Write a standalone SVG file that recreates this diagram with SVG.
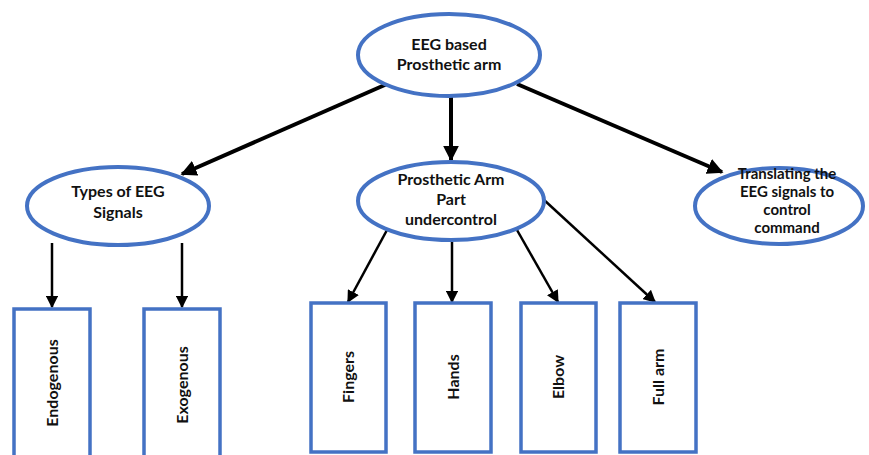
<svg xmlns="http://www.w3.org/2000/svg" width="869" height="455" viewBox="0 0 869 455">
<defs>
<style>
.node{fill:#fff;stroke:#4472C4;stroke-width:4}
.box{fill:#fff;stroke:#4472C4;stroke-width:3.5}
.t{font-family:Lato,"Open Sans","Liberation Sans",sans-serif;font-weight:bold;font-size:16px;fill:#111;text-anchor:middle}
.ts{font-size:15px}
.c{stroke:#000;fill:none}
.thick{stroke-width:4}
.thin{stroke-width:2.5}
</style>
<marker id="ah" viewBox="0 0 10 10" refX="9" refY="5" markerWidth="4" markerHeight="4" orient="auto" markerUnits="strokeWidth"><path d="M0,0 L10,5 L0,10 z" fill="#000"/></marker>
<marker id="ah2" viewBox="0 0 10 10" refX="9" refY="5" markerWidth="5" markerHeight="5" orient="auto" markerUnits="strokeWidth"><path d="M0,0 L10,5 L0,10 z" fill="#000"/></marker>
</defs>
<rect width="869" height="455" fill="#fff"/>
<g id="connectors">
<line class="c thick" x1="387" y1="84" x2="182" y2="174" marker-end="url(#ah)"/>
<line class="c thick" x1="451" y1="96" x2="451" y2="160" marker-end="url(#ah)"/>
<line class="c thick" x1="517" y1="84" x2="722" y2="172" marker-end="url(#ah)"/>
<line class="c thin" x1="52" y1="243" x2="52" y2="307" marker-end="url(#ah2)"/>
<line class="c thin" x1="182" y1="243" x2="182" y2="307" marker-end="url(#ah2)"/>
<line class="c thin" x1="387" y1="230" x2="348" y2="302" marker-end="url(#ah2)"/>
<line class="c thin" x1="452" y1="242" x2="452" y2="302" marker-end="url(#ah2)"/>
<line class="c thin" x1="517" y1="230" x2="558" y2="302" marker-end="url(#ah2)"/>
<line class="c thin" x1="543" y1="199" x2="655" y2="302" marker-end="url(#ah2)"/>
</g>
<g id="root">
<ellipse class="node" cx="449" cy="55" rx="91" ry="41"/>
<text class="t" x="449" y="50">EEG based</text>
<text class="t" x="449" y="70">Prosthetic arm</text>
</g>
<g id="types">
<ellipse class="node" cx="118" cy="206" rx="91" ry="39"/>
<text class="t" x="118" y="197">Types of EEG</text>
<text class="t" x="118" y="218">Signals</text>
</g>
<g id="parts">
<ellipse class="node" cx="451" cy="201" rx="93" ry="39"/>
<text class="t" x="451" y="185">Prosthetic Arm</text>
<text class="t" x="451" y="205">Part</text>
<text class="t" x="451" y="225">undercontrol</text>
</g>
<g id="translating">
<ellipse class="node" cx="779" cy="206" rx="84" ry="38"/>
<text class="t ts" x="787" y="179">Translating the</text>
<text class="t ts" x="787" y="197">EEG signals to</text>
<text class="t ts" x="787" y="215">control</text>
<text class="t ts" x="787" y="233">command</text>
</g>
<g id="endogenous">
<rect class="box" x="14" y="309" width="76" height="160"/>
<text class="t" transform="translate(58,383) rotate(-90)">Endogenous</text>
</g>
<g id="exogenous">
<rect class="box" x="144" y="309" width="76" height="160"/>
<text class="t" transform="translate(188,385) rotate(-90)">Exogenous</text>
</g>
<g id="fingers">
<rect class="box" x="311" y="303" width="75" height="149"/>
<text class="t" transform="translate(354,377) rotate(-90)">Fingers</text>
</g>
<g id="hands">
<rect class="box" x="415" y="303" width="76" height="149"/>
<text class="t" transform="translate(459,377) rotate(-90)">Hands</text>
</g>
<g id="elbow">
<rect class="box" x="521" y="303" width="75" height="149"/>
<text class="t" transform="translate(564,377) rotate(-90)">Elbow</text>
</g>
<g id="fullarm">
<rect class="box" x="620" y="303" width="76" height="149"/>
<text class="t" transform="translate(664,377) rotate(-90)">Full arm</text>
</g>
</svg>
